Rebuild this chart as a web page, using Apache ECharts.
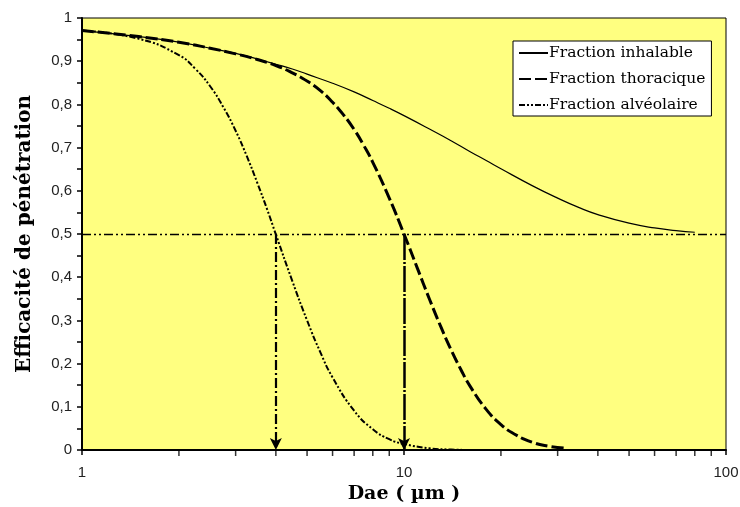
<!DOCTYPE html>
<html><head><meta charset="utf-8">
<script src="https://cdn.jsdelivr.net/npm/echarts@6/dist/echarts.min.js"></script>
<style>html,body{margin:0;padding:0;background:#fff}#c{width:740px;height:507px}</style>
</head><body><div id="c"></div>
<script>
// Data
var inhalableX = [1, 1.5, 2, 2.5, 3, 3.5, 4, 4.5, 5, 6, 7, 8, 9, 10, 12, 14, 16, 18, 20, 25, 30, 35, 40, 50, 60, 70, 80];
var inhalableY = [0.971, 0.957, 0.944, 0.930, 0.918, 0.905, 0.893, 0.882, 0.870, 0.849, 0.829, 0.809, 0.791, 0.774, 0.743, 0.716, 0.691, 0.670, 0.651, 0.612, 0.583, 0.561, 0.545, 0.525, 0.514, 0.508, 0.504];
var thoracicX = [1, 1.5, 2, 2.5, 3, 3.5, 4, 4.5, 5, 5.5, 6, 6.5, 7, 7.5, 8, 9, 10, 11, 12, 13, 14, 15, 16, 18, 20, 22, 25, 28, 32];
var thoracicY = [0.971, 0.957, 0.944, 0.930, 0.917, 0.904, 0.890, 0.873, 0.854, 0.832, 0.805, 0.775, 0.742, 0.705, 0.666, 0.583, 0.500, 0.421, 0.349, 0.286, 0.232, 0.187, 0.149, 0.094, 0.059, 0.037, 0.018, 0.009, 0.004];
var alveolarX = [1, 1.5, 2, 2.25, 2.5, 2.75, 3, 3.25, 3.5, 3.75, 4, 4.5, 5, 5.5, 6, 7, 8, 9, 10, 12, 14, 16];
var alveolarY = [0.971, 0.952, 0.914, 0.882, 0.842, 0.793, 0.739, 0.680, 0.619, 0.559, 0.499, 0.391, 0.300, 0.226, 0.168, 0.091, 0.048, 0.025, 0.014, 0.004, 0.001, 0.000];
var seriesNames = ['Fraction inhalable', 'Fraction thoracique', 'Fraction alvéolaire'];
var halfLevel = 0.5;
var cutAlveolar = 4;
var cutThoracic = 10;
var minorTickValues = [2, 3, 4, 5, 6, 7, 8, 9, 20, 30, 40, 50, 60, 70, 80, 90];
var yTicks = ['0', '0,1', '0,2', '0,3', '0,4', '0,5', '0,6', '0,7', '0,8', '0,9', '1'];

function pairs(xs, ys) { return xs.map(function (x, i) { return [x, ys[i]]; }); }

var chart = echarts.init(document.getElementById('c'), null, { renderer: 'canvas' });
var serif = 'DejaVu Serif';
var legendFont = 'DejaVu Serif';
var sans = 'Liberation Sans';
chart.setOption({
  animation: false,
  backgroundColor: '#ffffff',
  grid: { left: 82, right: 14, top: 18, bottom: 57, show: true, backgroundColor: '#ffff80', borderColor: '#000', borderWidth: 1, outerBoundsMode: 'none', containLabel: false },
  legend: {
    data: seriesNames,
    orient: 'vertical', left: 513, top: 41,
    backgroundColor: '#ffffff', borderColor: '#000', borderWidth: 1,
    padding: [4, 6, 3, 5], itemGap: 10, itemWidth: 29, itemHeight: 14,
    itemStyle: { opacity: 0 },
    textStyle: { fontFamily: legendFont, fontSize: 15.5, color: '#000', padding: [0, 0, 0, -4] },
    inactiveColor: '#000'
  },
  xAxis: {
    type: 'log', logBase: 10, min: 1, max: 100,
    name: 'Dae ( µm )', nameLocation: 'middle', nameGap: 30,
    nameTextStyle: { fontFamily: serif, fontWeight: 'bold', fontSize: 19, color: '#000' },
    axisLine: { show: true, lineStyle: { color: '#000', width: 2 } },
    axisTick: { show: true, inside: false, length: 5, lineStyle: { color: '#000', width: 1.5 } },
    axisLabel: { margin: 15, fontFamily: sans, fontSize: 15, color: '#222' },
    splitLine: { show: false }, minorTick: { show: false }
  },
  yAxis: {
    type: 'value', min: 0, max: 1, interval: 0.1,
    name: 'Efficacité de pénétration', nameLocation: 'middle', nameGap: 47,
    nameTextStyle: { fontFamily: serif, fontWeight: 'bold', fontSize: 20, color: '#000' },
    axisLine: { show: true, lineStyle: { color: '#000', width: 2 } },
    axisTick: { show: true, inside: false, length: 5, lineStyle: { color: '#000', width: 1.5 } },
    minorTick: { show: true, splitNumber: 2, length: 5, lineStyle: { color: '#000', width: 1.5 } },
    axisLabel: { margin: 10, fontFamily: sans, fontSize: 15, color: '#222',
      formatter: function (v) { return yTicks[Math.round(v * 10)]; } },
    splitLine: { show: false }
  },
  series: [
    {
      name: seriesNames[0], type: 'line', showSymbol: false, symbol: 'none',
      data: pairs(inhalableX, inhalableY), smooth: true,
      lineStyle: { color: '#000', width: 1.2, type: 'solid' }, itemStyle: { color: '#000' },
      markLine: {
        silent: true, symbol: ['none', 'none'], label: { show: false },
        lineStyle: { color: '#000', width: 1.3, type: [9, 3, 2, 3, 2, 3] },
        data: [[{ coord: [1, halfLevel] }, { coord: [100, halfLevel] }]]
      }
    },
    {
      name: seriesNames[1], type: 'line', showSymbol: false, symbol: 'none',
      data: pairs(thoracicX, thoracicY), smooth: true,
      lineStyle: { color: '#000', width: 3, type: [12, 4] }, itemStyle: { color: '#000' },
      markLine: {
        silent: true, symbol: ['none', 'arrow'], symbolSize: [9, 12], label: { show: false },
        lineStyle: { color: '#000', width: 2.5, type: [26, 2, 2, 2] },
        data: [[{ coord: [cutThoracic, halfLevel] }, { coord: [cutThoracic, 0] }]]
      }
    },
    {
      name: seriesNames[2], type: 'line', showSymbol: false, symbol: 'none',
      data: pairs(alveolarX, alveolarY), smooth: true,
      lineStyle: { color: '#000', width: 2, type: [6, 2, 2, 2, 2, 2] }, itemStyle: { color: '#000' },
      markLine: {
        silent: true, symbol: ['none', 'arrow'], symbolSize: [9, 12], label: { show: false },
        lineStyle: { color: '#000', width: 2.2, type: [10, 3, 2, 3] },
        data: [[{ coord: [cutAlveolar, halfLevel] }, { coord: [cutAlveolar, 0] }]]
      }
    },
    {
      name: 'minorTicks', type: 'scatter', silent: true, clip: false,
      data: minorTickValues.map(function (v) { return [v, 0]; }),
      symbol: 'rect', symbolSize: [1.5, 5], symbolOffset: [0, 3.5],
      itemStyle: { color: '#000' }, tooltip: { show: false }, z: 1
    }
  ]
});
</script></body></html>
